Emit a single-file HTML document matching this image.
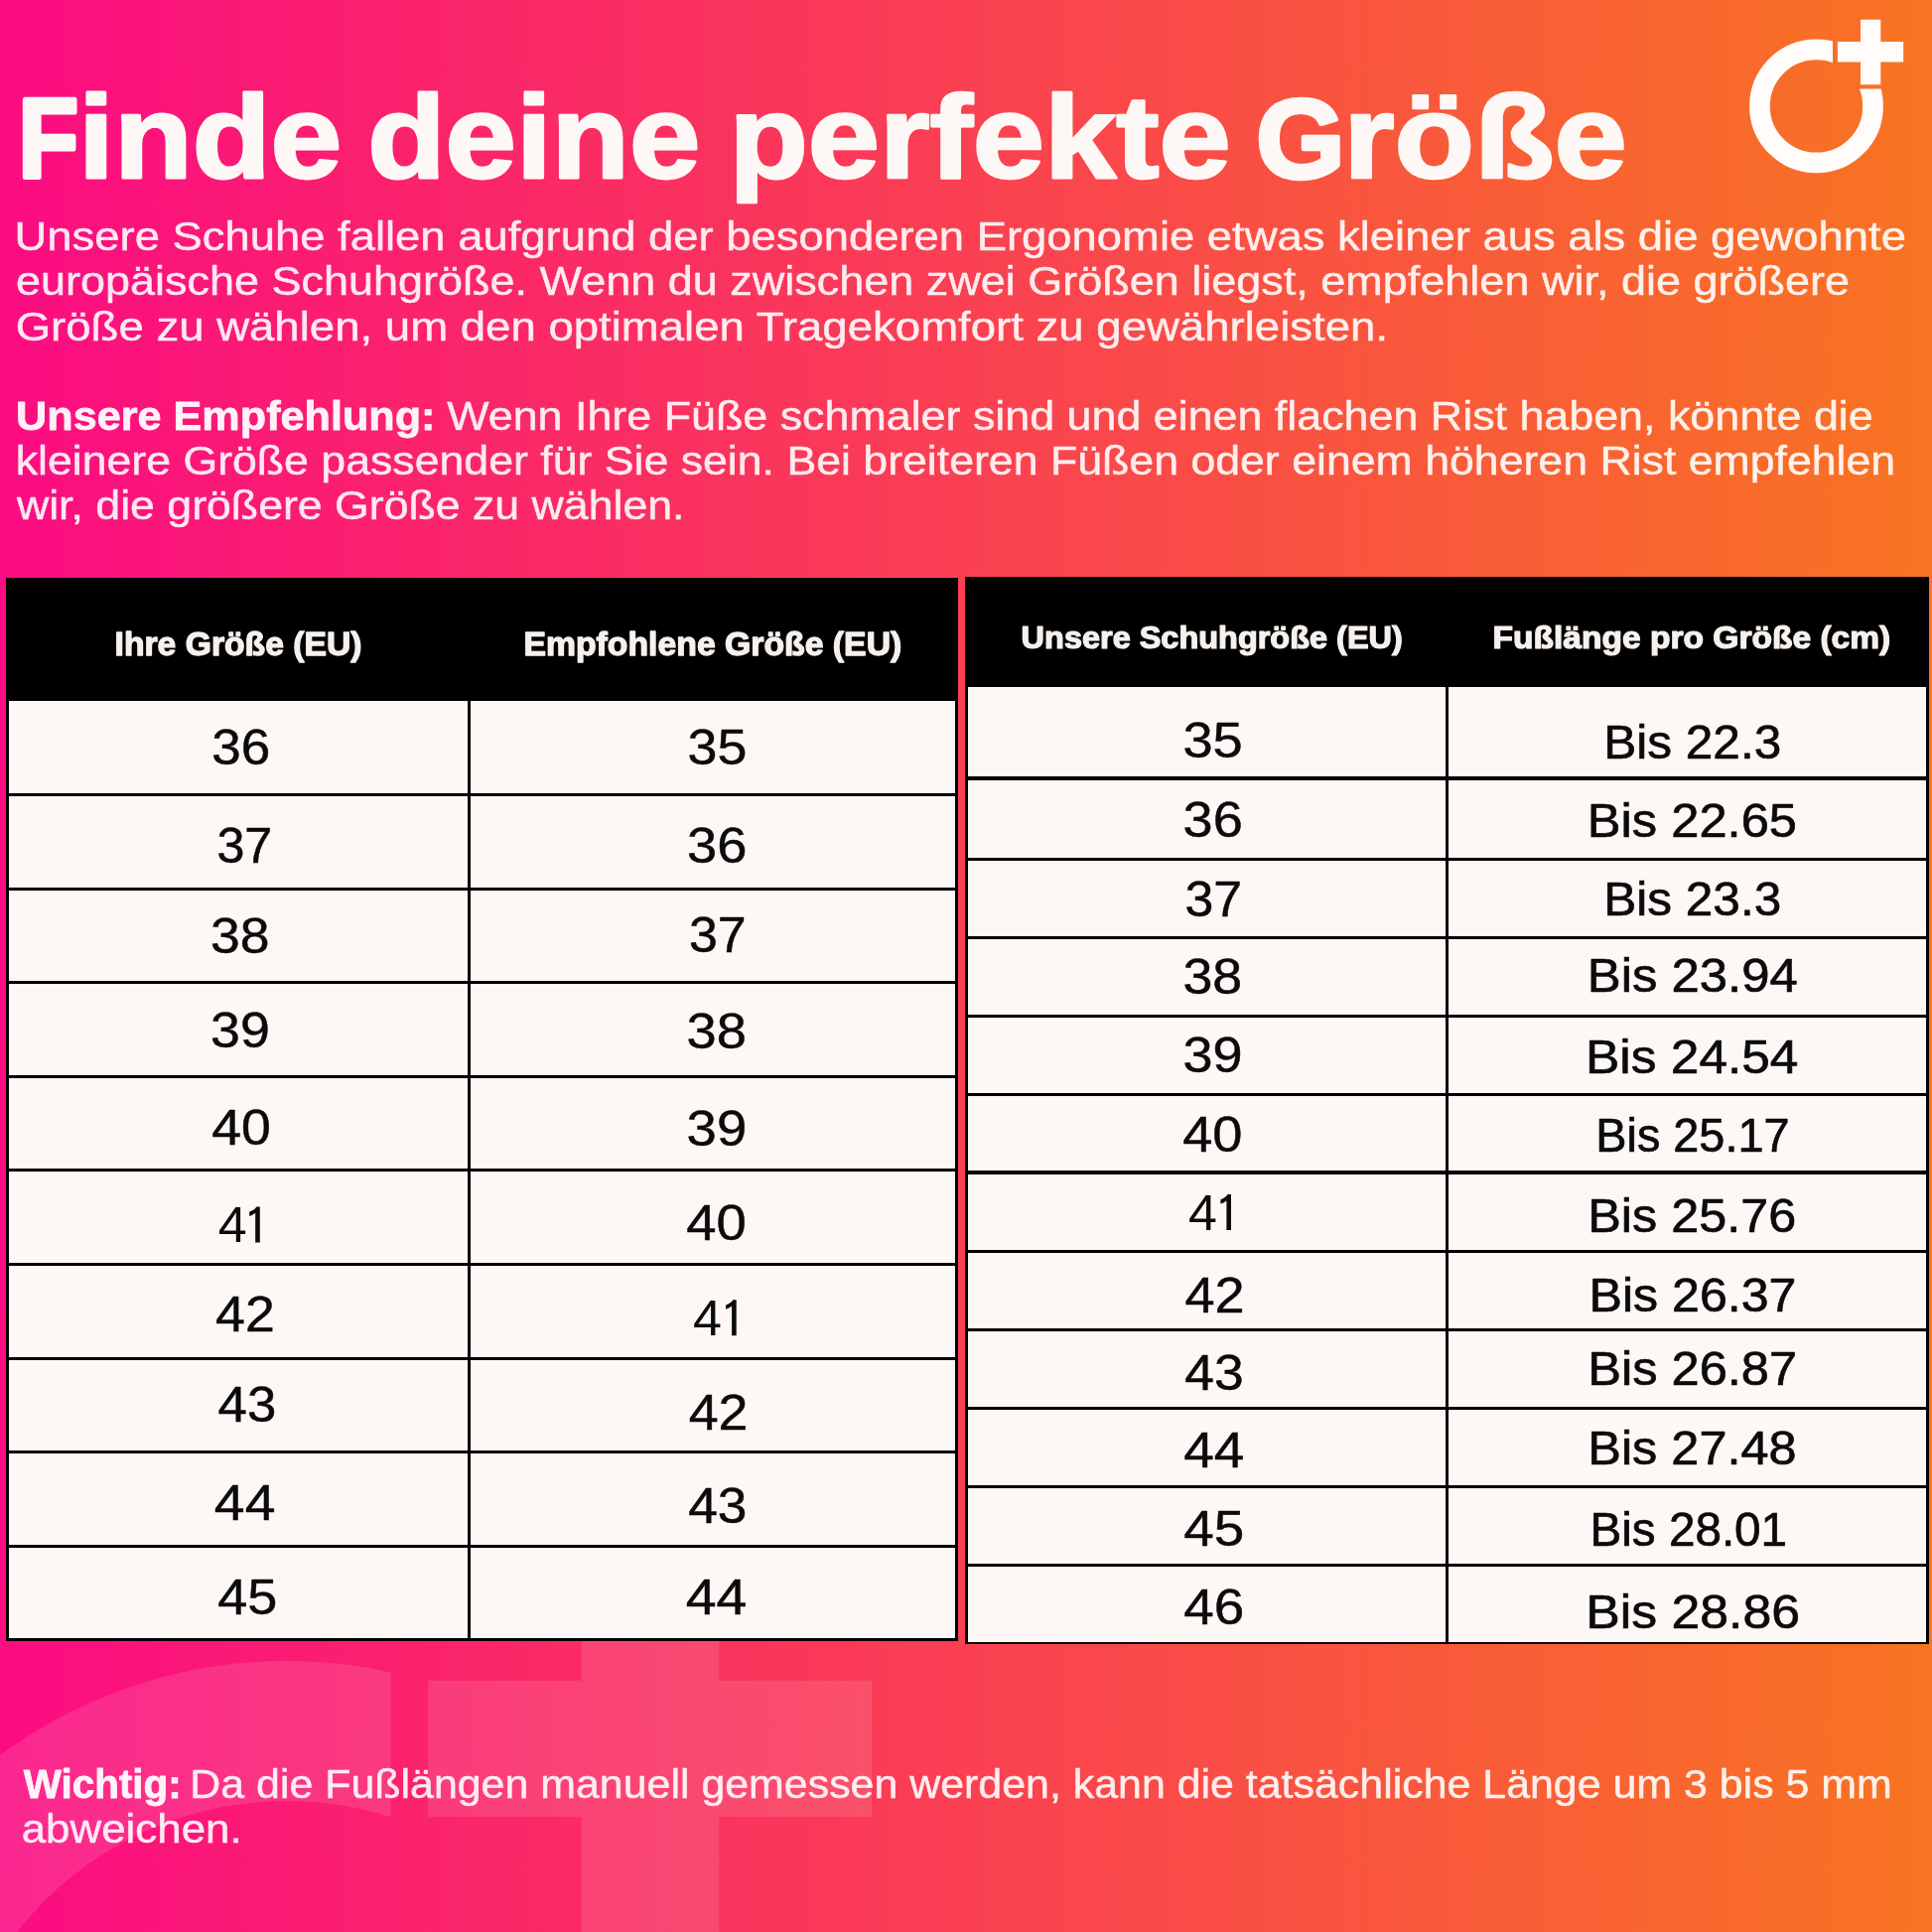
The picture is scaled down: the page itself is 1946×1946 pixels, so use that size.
<!DOCTYPE html>
<html lang="de">
<head>
<meta charset="utf-8">
<title>Finde deine perfekte Größe</title>
<style>
html,body{margin:0;padding:0}
body{width:1946px;height:1946px;overflow:hidden;position:relative;
background:linear-gradient(90deg,#fb0c82 0%,#fa2669 25%,#fa4052 50%,#f95a3a 75%,#f87422 100%);
font-family:"Liberation Sans",sans-serif}
.tb{position:absolute;background:#000}
.c{position:absolute;background:#fdf8f5}
svg{position:absolute;left:0;top:0;will-change:transform}
text{font-family:"Liberation Sans",sans-serif;white-space:pre}
</style>
</head>
<body>
<svg width="1946" height="1946" viewBox="0 0 1946 1946">
<defs>
<clipPath id="wmc"><path clip-rule="evenodd" d="M-400 1400H1400V2900H-400Z M393.6 1400H1400V2100H393.6Z"/></clipPath>
<clipPath id="lgc"><path clip-rule="evenodd" d="M1700 0H1946V250H1700Z M1846 0H1946V89.5H1846Z"/></clipPath>
</defs>
<g fill="#fff" fill-opacity="0.115">
<circle cx="289" cy="2160" r="416.5" fill="none" stroke="#fff" stroke-opacity="0.115" stroke-width="141" clip-path="url(#wmc)"/>
<path d="M585.5 1538H724.3V1692.7H878V1830H724.3V1990H585.5V1830H431.3V1692.7H585.5Z"/>
</g>
</svg>
<div class="tb" style="left:6.3px;top:581.9px;width:958.4000000000001px;height:1071.0px"></div>
<div class="c" style="left:8.9px;top:706.4px;width:461.9px;height:92.6px"></div>
<div class="c" style="left:473.8px;top:706.4px;width:488.0px;height:92.6px"></div>
<div class="c" style="left:8.9px;top:802.0px;width:461.9px;height:91.6px"></div>
<div class="c" style="left:473.8px;top:802.0px;width:488.0px;height:91.6px"></div>
<div class="c" style="left:8.9px;top:896.6px;width:461.9px;height:91.6px"></div>
<div class="c" style="left:473.8px;top:896.6px;width:488.0px;height:91.6px"></div>
<div class="c" style="left:8.9px;top:991.2px;width:461.9px;height:91.6px"></div>
<div class="c" style="left:473.8px;top:991.2px;width:488.0px;height:91.6px"></div>
<div class="c" style="left:8.9px;top:1085.8px;width:461.9px;height:91.6px"></div>
<div class="c" style="left:473.8px;top:1085.8px;width:488.0px;height:91.6px"></div>
<div class="c" style="left:8.9px;top:1180.4px;width:461.9px;height:91.6px"></div>
<div class="c" style="left:473.8px;top:1180.4px;width:488.0px;height:91.6px"></div>
<div class="c" style="left:8.9px;top:1275.0px;width:461.9px;height:91.6px"></div>
<div class="c" style="left:473.8px;top:1275.0px;width:488.0px;height:91.6px"></div>
<div class="c" style="left:8.9px;top:1369.6px;width:461.9px;height:91.6px"></div>
<div class="c" style="left:473.8px;top:1369.6px;width:488.0px;height:91.6px"></div>
<div class="c" style="left:8.9px;top:1464.2px;width:461.9px;height:91.6px"></div>
<div class="c" style="left:473.8px;top:1464.2px;width:488.0px;height:91.6px"></div>
<div class="c" style="left:8.9px;top:1558.8px;width:461.9px;height:91.3px"></div>
<div class="c" style="left:473.8px;top:1558.8px;width:488.0px;height:91.3px"></div>
<div class="tb" style="left:972.2px;top:581.1px;width:970.3999999999999px;height:1075.1999999999998px"></div>
<div class="c" style="left:975.0px;top:692.4px;width:480.9px;height:90.1px"></div>
<div class="c" style="left:1459.0px;top:692.4px;width:481.1px;height:90.1px"></div>
<div class="c" style="left:975.0px;top:785.5px;width:480.9px;height:78.3px"></div>
<div class="c" style="left:1459.0px;top:785.5px;width:481.1px;height:78.3px"></div>
<div class="c" style="left:975.0px;top:866.8px;width:480.9px;height:75.9px"></div>
<div class="c" style="left:1459.0px;top:866.8px;width:481.1px;height:75.9px"></div>
<div class="c" style="left:975.0px;top:945.7px;width:480.9px;height:76.2px"></div>
<div class="c" style="left:1459.0px;top:945.7px;width:481.1px;height:76.2px"></div>
<div class="c" style="left:975.0px;top:1024.9px;width:480.9px;height:76.0px"></div>
<div class="c" style="left:1459.0px;top:1024.9px;width:481.1px;height:76.0px"></div>
<div class="c" style="left:975.0px;top:1103.9px;width:480.9px;height:75.6px"></div>
<div class="c" style="left:1459.0px;top:1103.9px;width:481.1px;height:75.6px"></div>
<div class="c" style="left:975.0px;top:1182.5px;width:480.9px;height:76.2px"></div>
<div class="c" style="left:1459.0px;top:1182.5px;width:481.1px;height:76.2px"></div>
<div class="c" style="left:975.0px;top:1261.7px;width:480.9px;height:75.9px"></div>
<div class="c" style="left:1459.0px;top:1261.7px;width:481.1px;height:75.9px"></div>
<div class="c" style="left:975.0px;top:1340.6px;width:480.9px;height:76.2px"></div>
<div class="c" style="left:1459.0px;top:1340.6px;width:481.1px;height:76.2px"></div>
<div class="c" style="left:975.0px;top:1419.8px;width:480.9px;height:76.2px"></div>
<div class="c" style="left:1459.0px;top:1419.8px;width:481.1px;height:76.2px"></div>
<div class="c" style="left:975.0px;top:1499.0px;width:480.9px;height:75.9px"></div>
<div class="c" style="left:1459.0px;top:1499.0px;width:481.1px;height:75.9px"></div>
<div class="c" style="left:975.0px;top:1577.9px;width:480.9px;height:75.9px"></div>
<div class="c" style="left:1459.0px;top:1577.9px;width:481.1px;height:75.9px"></div>
<svg width="1946" height="1946" viewBox="0 0 1946 1946">
<g fill="#fffcfa">
<circle cx="1829.5" cy="106.9" r="57.05" fill="none" stroke="#fffcfa" stroke-width="20.7" clip-path="url(#lgc)"/>
<path d="M1874.1 19.7H1894.3V41.9H1917.2V62.4H1894.3V85.3H1874.1V62.4H1850.9V41.9H1874.1Z"/>
</g>
<text transform="translate(18.55 179.00) scale(0.8672 1.0000)" font-size="114" font-weight="700" fill="#fdf8f5" stroke="#fdf8f5" stroke-width="5.19" stroke-linejoin="round">F</text>
<text transform="translate(79.05 179.00) scale(1.0843 1.0000)" font-size="119" font-weight="700" fill="#fdf8f5" stroke="#fdf8f5" stroke-width="2.77" stroke-linejoin="round">inde</text>
<text transform="translate(370.18 179.00) scale(1.0782 1.0000)" font-size="119" font-weight="700" fill="#fdf8f5" stroke="#fdf8f5" stroke-width="2.78" stroke-linejoin="round">deine</text>
<text transform="translate(734.54 179.00) scale(1.0912 1.0000)" font-size="119" font-weight="700" fill="#fdf8f5" stroke="#fdf8f5" stroke-width="2.75" stroke-linejoin="round">perfekte</text>
<text transform="translate(1265.36 179.00) scale(1.0078 1.0000)" font-size="114" font-weight="700" fill="#fdf8f5" stroke="#fdf8f5" stroke-width="4.47" stroke-linejoin="round">G</text>
<text transform="translate(1353.22 179.00) scale(1.1074 1.0000)" font-size="119" font-weight="700" fill="#fdf8f5" stroke="#fdf8f5" stroke-width="2.71" stroke-linejoin="round">röße</text>
<text transform="translate(14.55 252.40) scale(1.1075 1.0000)" font-size="41" fill="#fff" opacity="0.9" stroke="#fff" stroke-width="0.45" stroke-linejoin="round">Unsere Schuhe fallen aufgrund der besonderen Ergonomie etwas kleiner aus als die gewohnte</text>
<text transform="translate(15.93 297.00) scale(1.0976 1.0000)" font-size="41" fill="#fff" opacity="0.9" stroke="#fff" stroke-width="0.46" stroke-linejoin="round">europäische Schuhgröße. Wenn du zwischen zwei Größen liegst, empfehlen wir, die größere</text>
<text transform="translate(15.63 342.60) scale(1.1114 1.0000)" font-size="41" fill="#fff" opacity="0.9" stroke="#fff" stroke-width="0.45" stroke-linejoin="round">Größe zu wählen, um den optimalen Tragekomfort zu gewährleisten.</text>
<text transform="translate(16.07 432.70) scale(1.0537 1.0000)" font-size="41" font-weight="700" fill="#fff" opacity="0.9400000000000001" stroke="#fff" stroke-width="0.76" stroke-linejoin="round">Unsere Empfehlung:</text>
<text transform="translate(450.28 432.70) scale(1.0935 1.0000)" font-size="41" fill="#fff" opacity="0.9" stroke="#fff" stroke-width="0.46" stroke-linejoin="round">Wenn Ihre Füße schmaler sind und einen flachen Rist haben, könnte die</text>
<text transform="translate(15.65 477.70) scale(1.0891 1.0000)" font-size="41" fill="#fff" opacity="0.9" stroke="#fff" stroke-width="0.46" stroke-linejoin="round">kleinere Größe passender für Sie sein. Bei breiteren Füßen oder einem höheren Rist empfehlen</text>
<text transform="translate(16.95 523.30) scale(1.0893 1.0000)" font-size="41" fill="#fff" opacity="0.9" stroke="#fff" stroke-width="0.46" stroke-linejoin="round">wir, die größere Größe zu wählen.</text>
<text transform="translate(23.70 1810.70) scale(0.9860 1.0000)" font-size="41" font-weight="700" fill="#fff" opacity="0.9400000000000001" stroke="#fff" stroke-width="0.81" stroke-linejoin="round">Wichtig:</text>
<text transform="translate(191.35 1810.70) scale(1.0465 1.0000)" font-size="41" fill="#fff" opacity="0.9" stroke="#fff" stroke-width="0.48" stroke-linejoin="round">Da die Fußlängen manuell gemessen werden, kann die tatsächliche Länge um 3 bis 5 mm</text>
<text transform="translate(21.68 1856.00) scale(1.0703 1.0000)" font-size="41" fill="#fff" opacity="0.9" stroke="#fff" stroke-width="0.47" stroke-linejoin="round">abweichen.</text>
<text transform="translate(115.55 659.70) scale(1.0215 1.0000)" font-size="33" font-weight="700" fill="#f6f1ed" stroke="#f6f1ed" stroke-width="1.27" stroke-linejoin="round">Ihre Größe (EU)</text>
<text transform="translate(527.45 659.60) scale(1.0238 1.0000)" font-size="33" font-weight="700" fill="#f6f1ed" stroke="#f6f1ed" stroke-width="1.27" stroke-linejoin="round">Empfohlene Größe (EU)</text>
<text transform="translate(1028.62 652.90) scale(1.0476 1.0000)" font-size="31" font-weight="700" fill="#f6f1ed" stroke="#f6f1ed" stroke-width="1.24" stroke-linejoin="round">Unsere Schuhgröße (EU)</text>
<text transform="translate(1503.49 652.90) scale(1.0825 1.0000)" font-size="31" font-weight="700" fill="#f6f1ed" stroke="#f6f1ed" stroke-width="1.20" stroke-linejoin="round">Fußlänge pro Größe (cm)</text>
<text transform="translate(213.33 770.20) scale(1.0602 1.0000)" font-size="50" fill="#0b0b0b" stroke="#0b0b0b" stroke-width="0.47" stroke-linejoin="round">36</text>
<text transform="translate(218.44 868.80) scale(1.0039 1.0000)" font-size="50" fill="#0b0b0b" stroke="#0b0b0b" stroke-width="0.50" stroke-linejoin="round">37</text>
<text transform="translate(212.11 960.40) scale(1.0699 1.0000)" font-size="50" fill="#0b0b0b" stroke="#0b0b0b" stroke-width="0.47" stroke-linejoin="round">38</text>
<text transform="translate(212.10 1055.10) scale(1.0751 1.0000)" font-size="50" fill="#0b0b0b" stroke="#0b0b0b" stroke-width="0.47" stroke-linejoin="round">39</text>
<text transform="translate(213.18 1153.10) scale(1.0730 1.0000)" font-size="50" fill="#0b0b0b" stroke="#0b0b0b" stroke-width="0.47" stroke-linejoin="round">40</text>
<text transform="translate(219.66 1251.40) scale(1.04 1)" font-size="50" fill="#0b0b0b">4</text>
<path fill="#0b0b0b" d="M251.2 1225.0V1220.6Q256.2 1219.0 258.4 1215.4H261.8V1251.4H257.2V1221.8Q254.4 1224.0 251.2 1225.0Z"/>
<text transform="translate(217.08 1340.70) scale(1.0731 1.0000)" font-size="50" fill="#0b0b0b" stroke="#0b0b0b" stroke-width="0.47" stroke-linejoin="round">42</text>
<text transform="translate(219.59 1432.40) scale(1.0552 1.0000)" font-size="50" fill="#0b0b0b" stroke="#0b0b0b" stroke-width="0.47" stroke-linejoin="round">43</text>
<text transform="translate(215.84 1531.20) scale(1.1075 1.0000)" font-size="50" fill="#0b0b0b" stroke="#0b0b0b" stroke-width="0.45" stroke-linejoin="round">44</text>
<text transform="translate(219.17 1625.50) scale(1.0819 1.0000)" font-size="50" fill="#0b0b0b" stroke="#0b0b0b" stroke-width="0.46" stroke-linejoin="round">45</text>
<text transform="translate(692.60 770.30) scale(1.0757 1.0000)" font-size="50" fill="#0b0b0b" stroke="#0b0b0b" stroke-width="0.46" stroke-linejoin="round">35</text>
<text transform="translate(692.08 868.90) scale(1.0854 1.0000)" font-size="50" fill="#0b0b0b" stroke="#0b0b0b" stroke-width="0.46" stroke-linejoin="round">36</text>
<text transform="translate(693.98 959.10) scale(1.0373 1.0000)" font-size="50" fill="#0b0b0b" stroke="#0b0b0b" stroke-width="0.48" stroke-linejoin="round">37</text>
<text transform="translate(691.58 1056.00) scale(1.0854 1.0000)" font-size="50" fill="#0b0b0b" stroke="#0b0b0b" stroke-width="0.46" stroke-linejoin="round">38</text>
<text transform="translate(691.57 1153.70) scale(1.0907 1.0000)" font-size="50" fill="#0b0b0b" stroke="#0b0b0b" stroke-width="0.46" stroke-linejoin="round">39</text>
<text transform="translate(691.16 1249.10) scale(1.0900 1.0000)" font-size="50" fill="#0b0b0b" stroke="#0b0b0b" stroke-width="0.46" stroke-linejoin="round">40</text>
<text transform="translate(697.96 1345.20) scale(1.04 1)" font-size="50" fill="#0b0b0b">4</text>
<path fill="#0b0b0b" d="M731.1 1318.8V1314.4Q736.1 1312.8 738.3 1309.2H741.7V1345.2H737.1V1315.6Q734.3 1317.8 731.1 1318.8Z"/>
<text transform="translate(693.67 1440.10) scale(1.0750 1.0000)" font-size="50" fill="#0b0b0b" stroke="#0b0b0b" stroke-width="0.47" stroke-linejoin="round">42</text>
<text transform="translate(693.19 1533.50) scale(1.0648 1.0000)" font-size="50" fill="#0b0b0b" stroke="#0b0b0b" stroke-width="0.47" stroke-linejoin="round">43</text>
<text transform="translate(690.74 1626.00) scale(1.1094 1.0000)" font-size="50" fill="#0b0b0b" stroke="#0b0b0b" stroke-width="0.45" stroke-linejoin="round">44</text>
<text transform="translate(1191.38 763.30) scale(1.0854 1.0000)" font-size="50" fill="#0b0b0b" stroke="#0b0b0b" stroke-width="0.46" stroke-linejoin="round">35</text>
<text transform="translate(1191.59 842.80) scale(1.0816 1.0000)" font-size="50" fill="#0b0b0b" stroke="#0b0b0b" stroke-width="0.46" stroke-linejoin="round">36</text>
<text transform="translate(1193.48 922.50) scale(1.0373 1.0000)" font-size="50" fill="#0b0b0b" stroke="#0b0b0b" stroke-width="0.48" stroke-linejoin="round">37</text>
<text transform="translate(1191.40 1001.10) scale(1.0757 1.0000)" font-size="50" fill="#0b0b0b" stroke="#0b0b0b" stroke-width="0.46" stroke-linejoin="round">38</text>
<text transform="translate(1191.39 1080.30) scale(1.0810 1.0000)" font-size="50" fill="#0b0b0b" stroke="#0b0b0b" stroke-width="0.46" stroke-linejoin="round">39</text>
<text transform="translate(1191.17 1160.30) scale(1.0844 1.0000)" font-size="50" fill="#0b0b0b" stroke="#0b0b0b" stroke-width="0.46" stroke-linejoin="round">40</text>
<text transform="translate(1197.06 1239.00) scale(1.04 1)" font-size="50" fill="#0b0b0b">4</text>
<path fill="#0b0b0b" d="M1229.4 1212.6V1208.2Q1234.4 1206.6 1236.6 1203.0H1240.0V1239.0H1235.4V1209.4Q1232.6 1211.6 1229.4 1212.6Z"/>
<text transform="translate(1193.47 1321.70) scale(1.0827 1.0000)" font-size="50" fill="#0b0b0b" stroke="#0b0b0b" stroke-width="0.46" stroke-linejoin="round">42</text>
<text transform="translate(1193.18 1400.30) scale(1.0686 1.0000)" font-size="50" fill="#0b0b0b" stroke="#0b0b0b" stroke-width="0.47" stroke-linejoin="round">43</text>
<text transform="translate(1192.15 1477.60) scale(1.1019 1.0000)" font-size="50" fill="#0b0b0b" stroke="#0b0b0b" stroke-width="0.45" stroke-linejoin="round">44</text>
<text transform="translate(1192.15 1556.80) scale(1.0971 1.0000)" font-size="50" fill="#0b0b0b" stroke="#0b0b0b" stroke-width="0.46" stroke-linejoin="round">45</text>
<text transform="translate(1192.15 1636.20) scale(1.0971 1.0000)" font-size="50" fill="#0b0b0b" stroke="#0b0b0b" stroke-width="0.46" stroke-linejoin="round">46</text>
<text transform="translate(1615.32 764.00) scale(1.0314 1.0000)" font-size="48" fill="#0b0b0b" stroke="#0b0b0b" stroke-width="0.68" stroke-linejoin="round">Bis 22.3</text>
<text transform="translate(1598.83 842.80) scale(1.0553 1.0000)" font-size="48" fill="#0b0b0b" stroke="#0b0b0b" stroke-width="0.66" stroke-linejoin="round">Bis 22.65</text>
<text transform="translate(1615.32 921.60) scale(1.0314 1.0000)" font-size="48" fill="#0b0b0b" stroke="#0b0b0b" stroke-width="0.68" stroke-linejoin="round">Bis 23.3</text>
<text transform="translate(1598.81 998.80) scale(1.0593 1.0000)" font-size="48" fill="#0b0b0b" stroke="#0b0b0b" stroke-width="0.66" stroke-linejoin="round">Bis 23.94</text>
<text transform="translate(1597.06 1080.80) scale(1.0716 1.0000)" font-size="48" fill="#0b0b0b" stroke="#0b0b0b" stroke-width="0.65" stroke-linejoin="round">Bis 24.54</text>
<text transform="translate(1607.35 1159.60) scale(0.9750 1.0000)" font-size="48" fill="#0b0b0b" stroke="#0b0b0b" stroke-width="0.72" stroke-linejoin="round">Bis 25.17</text>
<text transform="translate(1599.25 1241.00) scale(1.0490 1.0000)" font-size="48" fill="#0b0b0b" stroke="#0b0b0b" stroke-width="0.67" stroke-linejoin="round">Bis 25.76</text>
<text transform="translate(1600.58 1321.20) scale(1.0436 1.0000)" font-size="48" fill="#0b0b0b" stroke="#0b0b0b" stroke-width="0.67" stroke-linejoin="round">Bis 26.37</text>
<text transform="translate(1599.23 1395.00) scale(1.0539 1.0000)" font-size="48" fill="#0b0b0b" stroke="#0b0b0b" stroke-width="0.66" stroke-linejoin="round">Bis 26.87</text>
<text transform="translate(1599.25 1475.30) scale(1.0512 1.0000)" font-size="48" fill="#0b0b0b" stroke="#0b0b0b" stroke-width="0.67" stroke-linejoin="round">Bis 27.48</text>
<text transform="translate(1601.48 1556.80) scale(0.9928 1.0000)" font-size="48" fill="#0b0b0b" stroke="#0b0b0b" stroke-width="0.71" stroke-linejoin="round">Bis 28.01</text>
<text transform="translate(1597.13 1640.00) scale(1.0789 1.0000)" font-size="48" fill="#0b0b0b" stroke="#0b0b0b" stroke-width="0.65" stroke-linejoin="round">Bis 28.86</text>
</svg>
</body>
</html>
